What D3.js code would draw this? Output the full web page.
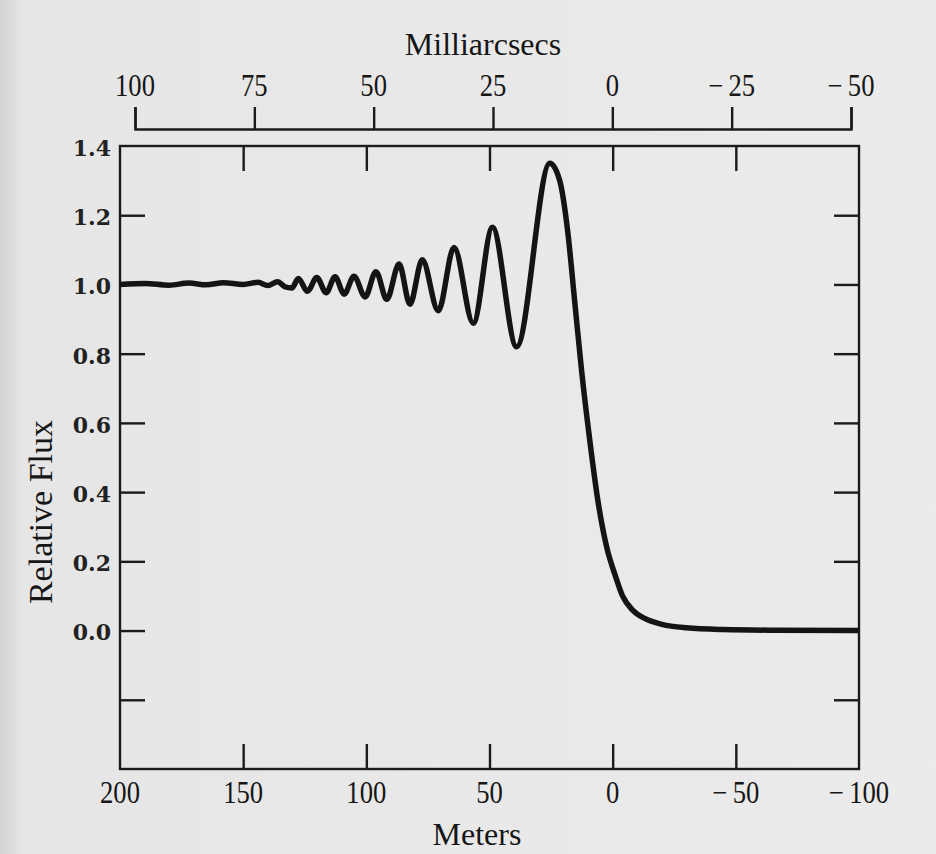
<!DOCTYPE html>
<html>
<head>
<meta charset="utf-8">
<script src="https://cdn.jsdelivr.net/npm/d3@7"></script>
<style>
  body { margin: 0; background: #e9e9e9; }
  svg { display: block; }
  .axis path, .axis line { stroke: #1b1b1b; stroke-width: 2.4; }
  .serif { font-family: "Liberation Serif", "DejaVu Serif", serif; fill: #161616; }
  .ylab { font-family: "DejaVu Serif", serif; font-weight: bold; fill: #222; }
</style>
</head>
<body>
<div id="chart"></div>
<script>
// tick values for the three scales
var meterTicks = [200, 150, 100, 50, 0, -50, -100];
var masTicks = [100, 75, 50, 25, 0, -25, -50];
var fluxTicks = [1.4, 1.2, 1.0, 0.8, 0.6, 0.4, 0.2, 0.0, -0.2];
var fluxLabels = ["1.4", "1.2", "1.0", "0.8", "0.6", "0.4", "0.2", "0.0", ""];

// occultation curve (meters, relative flux)
var meters = [200, 190, 180, 172, 165, 158, 150, 144, 140, 136, 133,
    130.2, 127.6, 123.9, 120.1, 116.3, 112.7, 109, 105, 100.5, 96.1, 91.7,
    86.7, 82.3, 77.3, 70.8, 64.4, 56.6, 48.8, 39, 25.5, 21.5, 18.2, 15.4,
    12.6, 9.3, 6.1, 2.4, -1, -4, -8, -13, -20, -30, -45, -65, -100];
var flux = [1.0, 1.003, 0.998, 1.004, 0.999, 1.005, 1.0, 1.006, 0.997, 1.008, 0.993,
    0.99, 1.017, 0.98, 1.02, 0.976, 1.022, 0.972, 1.024, 0.964, 1.037, 0.957,
    1.059, 0.943, 1.071, 0.924, 1.107, 0.888, 1.165, 0.82, 1.35, 1.3, 1.15, 0.95,
    0.75, 0.55, 0.38, 0.24, 0.16, 0.1, 0.06, 0.035, 0.018, 0.008, 0.003, 0.001, 0.0];

var svgWidth = 936;
var svgHeight = 854;

// plot box
var box = { left: 120, right: 859, top: 146, bottom: 769 };
var tickLen = 25;

var svg = d3.select("#chart")
    .append("svg")
    .attr("width", svgWidth)
    .attr("height", svgHeight);

// paper background, a bit darker at the scanned left edge
var grad = svg.append("defs").append("linearGradient")
    .attr("id", "paper");
grad.append("stop").attr("offset", "0%").attr("stop-color", "#d2d2d2");
grad.append("stop").attr("offset", "2.5%").attr("stop-color", "#e6e6e6");
grad.append("stop").attr("offset", "100%").attr("stop-color", "#ebebeb");

svg.append("rect")
    .attr("width", svgWidth)
    .attr("height", svgHeight)
    .attr("fill", "url(#paper)");

var xScale = d3.scaleLinear()
    .domain([200, -100])
    .range([box.left, box.right]);

var yScale = d3.scaleLinear()
    .domain([-0.4, 1.4])
    .range([box.bottom, box.top]);

var masScale = d3.scaleLinear()
    .domain([100, -50])
    .range([135, 851]);

function fmtMinus(v) {
    return v < 0 ? "\u2212\u2009" + Math.abs(v) : String(v);
}

// plot frame
svg.append("rect")
    .attr("x", box.left)
    .attr("y", box.top)
    .attr("width", box.right - box.left)
    .attr("height", box.bottom - box.top)
    .attr("fill", "none")
    .attr("stroke", "#1b1b1b")
    .attr("stroke-width", 2.4);

// inner ticks on bottom and top borders
var innerX = meterTicks.slice(1, -1);
svg.append("g")
    .attr("class", "axis")
    .attr("transform", `translate(0, ${box.bottom})`)
    .call(d3.axisBottom(xScale).tickValues(innerX).tickSize(-tickLen).tickSizeOuter(0).tickFormat(""))
    .select(".domain").remove();

svg.append("g")
    .attr("class", "axis")
    .attr("transform", `translate(0, ${box.top})`)
    .call(d3.axisTop(xScale).tickValues(innerX).tickSize(-tickLen).tickSizeOuter(0).tickFormat(""))
    .select(".domain").remove();

// inner ticks on left and right borders
var innerY = fluxTicks.slice(1);
svg.append("g")
    .attr("class", "axis")
    .attr("transform", `translate(${box.left}, 0)`)
    .call(d3.axisLeft(yScale).tickValues(innerY).tickSize(-tickLen).tickSizeOuter(0).tickFormat(""))
    .select(".domain").remove();

svg.append("g")
    .attr("class", "axis")
    .attr("transform", `translate(${box.right}, 0)`)
    .call(d3.axisRight(yScale).tickValues(innerY).tickSize(-tickLen).tickSizeOuter(0).tickFormat(""))
    .select(".domain").remove();

// bottom tick labels (meters), slightly condensed
var squeeze = 0.86;
svg.append("g")
    .selectAll("text")
    .data(meterTicks)
    .enter()
    .append("text")
    .attr("class", "serif")
    .attr("x", d => xScale(d))
    .attr("y", 803)
    .attr("text-anchor", "middle")
    .attr("font-size", 31)
    .attr("transform", d => `translate(${xScale(d) * (1 - squeeze)}, 0) scale(${squeeze}, 1)`)
    .text(d => fmtMinus(d));

svg.append("text")
    .attr("class", "serif")
    .attr("x", 477)
    .attr("y", 845)
    .attr("text-anchor", "middle")
    .attr("font-size", 32)
    .text("Meters");

// top axis (milliarcsecs)
var topAxis = svg.append("g")
    .attr("class", "axis")
    .attr("transform", "translate(0, 129)")
    .call(d3.axisTop(masScale).tickValues(masTicks).tickSize(22).tickSizeOuter(22).tickFormat(""));
topAxis.select(".domain").attr("fill", "none");

svg.append("g")
    .selectAll("text")
    .data(masTicks)
    .enter()
    .append("text")
    .attr("class", "serif")
    .attr("x", d => masScale(d))
    .attr("y", 96)
    .attr("text-anchor", "middle")
    .attr("font-size", 31)
    .attr("transform", d => `translate(${masScale(d) * (1 - squeeze)}, 0) scale(${squeeze}, 1)`)
    .text(d => fmtMinus(d));

svg.append("text")
    .attr("class", "serif")
    .attr("x", 483)
    .attr("y", 55)
    .attr("text-anchor", "middle")
    .attr("font-size", 32)
    .text("Milliarcsecs");

// left tick labels (flux)
svg.append("g")
    .selectAll("text")
    .data(fluxTicks)
    .enter()
    .append("text")
    .attr("class", "ylab")
    .attr("x", 111)
    .attr("y", d => yScale(d))
    .attr("dy", "0.45em")
    .attr("text-anchor", "end")
    .attr("font-size", 22)
    .text((d, i) => fluxLabels[i]);

svg.append("text")
    .attr("class", "serif")
    .attr("transform", "translate(52, 512) rotate(-90)")
    .attr("text-anchor", "middle")
    .attr("font-size", 34)
    .text("Relative Flux");

// the occultation curve
var points = meters.map((m, i) => [m, flux[i]]);
var line = d3.line()
    .x(d => xScale(d[0]))
    .y(d => yScale(d[1]))
    .curve(d3.curveMonotoneX);

svg.append("path")
    .datum(points)
    .attr("d", line)
    .attr("fill", "none")
    .attr("stroke", "#141414")
    .attr("stroke-width", 5.5)
    .attr("stroke-linejoin", "round");
</script>
</body>
</html>
